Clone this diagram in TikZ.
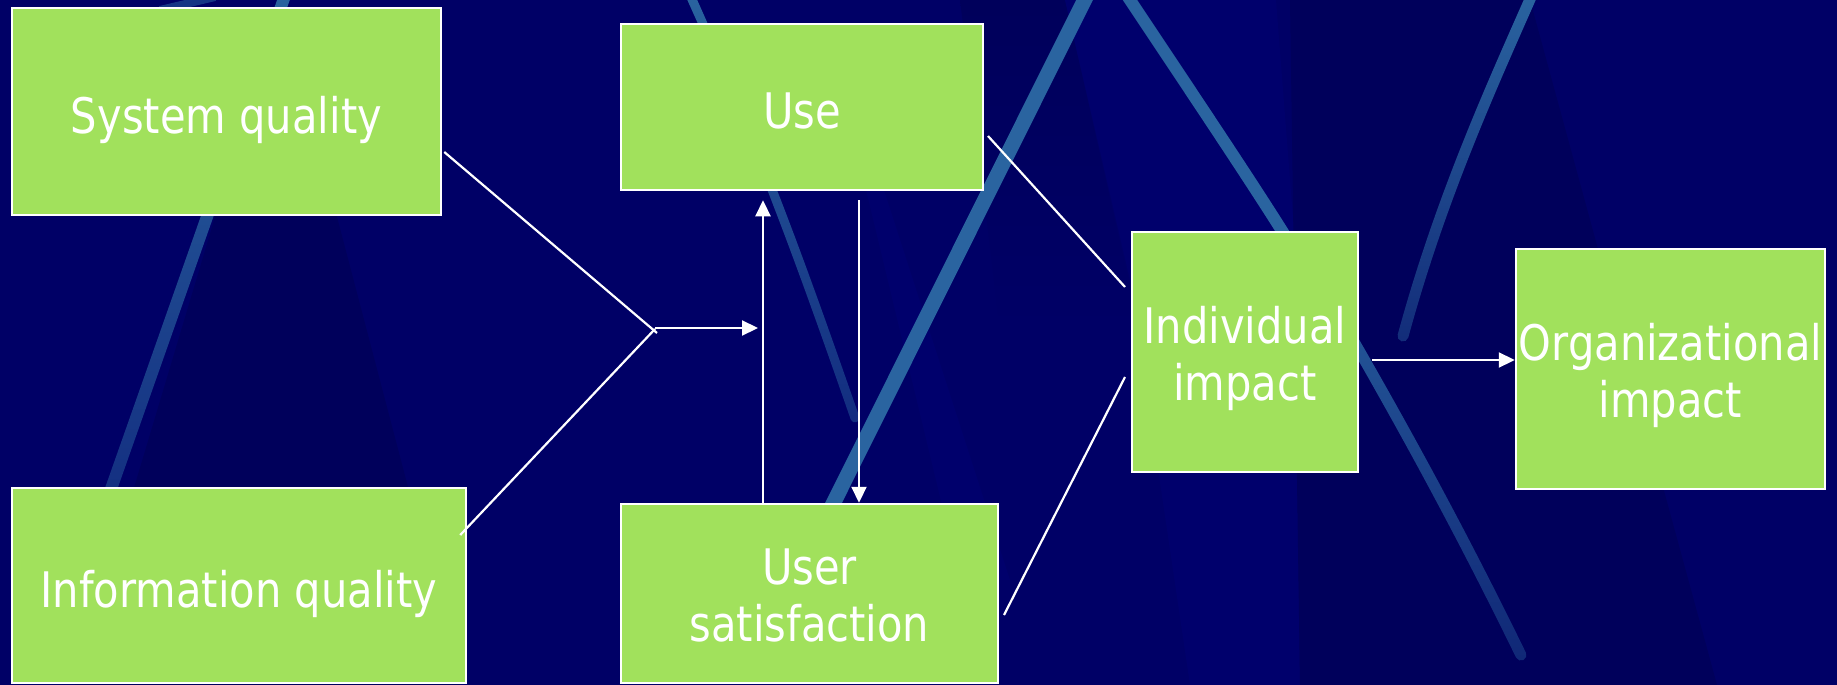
\documentclass[tikz,border=0pt]{standalone}
\usepackage{fontspec}
\setmainfont{DejaVu Sans}[FakeStretch=0.85]
\usetikzlibrary{arrows.meta,calc,fadings}
\definecolor{navy}{HTML}{000066}
\definecolor{navydark}{HTML}{00005B}
\definecolor{navylight}{HTML}{00006C}
\definecolor{streak}{HTML}{2A64A0}
\definecolor{streakmid}{HTML}{25599A}
\definecolor{boxgreen}{HTML}{A1E15C}
\tikzfading[name=fadedown, top color=transparent!0, middle color=transparent!5, bottom color=transparent!55]
\tikzset{
  box/.style={draw=white, line width=2.5pt, fill=boxgreen, text=white, inner sep=0pt,
    align=center, font=\fontsize{49}{57}\selectfont, text depth=0pt},
  oneline/.style={box, text height=43pt},
  twoline/.style={box, text height=96pt},
  conn/.style={draw=white, line width=2.2pt},
  arr/.style={conn, -{Triangle[length=16pt,width=15pt]}},
  streakline/.style={draw=streak, line cap=round},
}
\begin{document}
\begin{tikzpicture}[x=1pt,y=-1pt]
% background
\fill[navy] (0,0) rectangle (1837,685);
\useasboundingbox (0,0) rectangle (1837,685);
\fill[navydark] (280,0) -- (75,685) -- (460,685) -- cycle;
\shade[top color=navydark, bottom color=navy] (960,0) -- (1065,0) -- (1140,330) -- (1000,330) -- cycle;
\fill[navylight] (1065,0) -- (1276,0) -- (1294,231) -- (1300,685) -- (1190,685) -- (1130,280) -- cycle;
\fill[navylight] (866,190) -- (884,190) -- (1010,580) -- (960,580) -- cycle;
\fill[navydark] (1290,0) -- (1530,0) -- (1717,685) -- (1300,685) -- cycle;
% streaks
\draw[streakline, line width=12pt, path fading=fadedown] (285,-5) -- (100,520);
\draw[draw=streakmid, line width=8pt, opacity=0.6] (160,10) -- (215,-3);
\draw[streakline, line width=9pt, path fading=fadedown] (690,-5) .. controls (760,150) and (800,260) .. (855,418);
\draw[streakline, line width=15pt] (1087,-5) -- (830,510);
\draw[streakline, line width=12pt] (1128,-3) .. controls (1220,135) and (1270,210) .. (1300,260);
\draw[draw=streakmid, line width=11pt, line cap=round, path fading=fadedown] (1330,300) .. controls (1400,420) and (1460,530) .. (1521,655);
\draw[streakline, line width=11pt, path fading=fadedown] (1531,-3) .. controls (1490,90) and (1440,200) .. (1403,336);
% boxes
\node[oneline, minimum width=429pt, minimum height=207pt] (sq) at (226.5,111.5) {System quality};
\node[oneline, minimum width=454pt, minimum height=195pt] (iq) at (239,585.5) {Information quality};
\node[oneline, minimum width=362pt, minimum height=166pt] (use) at (802,107) {Use};
\node[twoline, minimum width=377pt, minimum height=179pt] (us) at (809.5,593.5) {User\\satisfaction};
\node[twoline, minimum width=226pt, minimum height=240pt] (ind) at (1245,352) {Individual\\impact};
\node[twoline, minimum width=309pt, minimum height=240pt] (org) at (1670.5,369) {Organizational\\impact};
% connectors
\coordinate (ja) at (657,333);
\coordinate (jb) at (655,329);
\coordinate (jc) at (655,328);
\coordinate (ha) at (758,328);
\draw[conn] ($(sq.east)+(2,40.5)$) -- (ja);
\draw[conn] ($(iq.east)+(-7,-50.5)$) -- (jb);
\draw[arr] (jc) -- (ha);
\draw[arr] ($(us.north)+(-46.5,0)$) -- ($(use.south)+(-39,9)$);
\draw[arr] ($(use.south)+(57,9)$) -- ($(us.north)+(49.5,0)$);
\draw[conn] ($(use.east)+(3.75,29)$) -- ($(ind.west)+(-5.75,-65)$);
\draw[conn] ($(us.east)+(4.75,21.5)$) -- ($(ind.west)+(-5.75,25)$);
\draw[arr] ($(ind.east)+(12.75,8)$) -- ($(org.west)+(0,-9)$);
\end{tikzpicture}
\end{document}
